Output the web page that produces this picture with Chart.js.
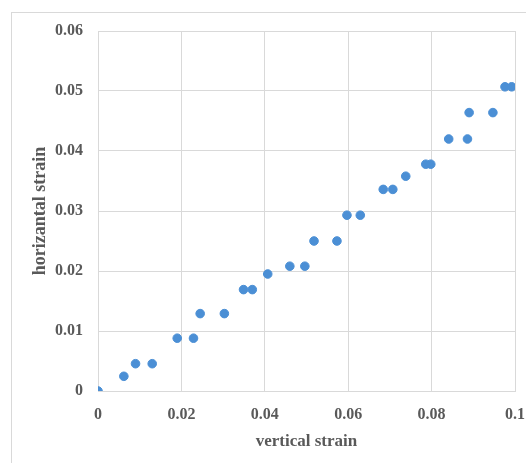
<!DOCTYPE html>
<html>
<head>
<meta charset="utf-8">
<script src="https://cdn.jsdelivr.net/npm/chart.js@4/dist/chart.umd.min.js"></script>
<style>
  html, body { margin: 0; padding: 0; background: #fff; overflow: hidden; }
  #frame { position: absolute; left: 11px; top: 12px; width: 560px; height: 500px; border: 1px solid #d9d9d9; }
  #wrap { position: absolute; left: 0; top: 0; width: 526px; height: 463px; }
</style>
</head>
<body>
<div id="frame"></div>
<div id="wrap"><canvas id="chart-strain"></canvas></div>
<script>
"use strict";
// values
var verticalStrain = [0, 0.0062, 0.0090, 0.0130, 0.0190, 0.0229, 0.0245, 0.0303, 0.0349, 0.0370,
	0.0407, 0.0460, 0.0496, 0.0518, 0.0573, 0.0597, 0.0629, 0.0684, 0.0707, 0.0738,
	0.0786, 0.0798, 0.0841, 0.0886, 0.0890, 0.0947, 0.0976, 0.0992];
var horizontalStrain = [0, 0.00245, 0.00455, 0.00455, 0.0088, 0.0088, 0.0129, 0.0129, 0.0169, 0.0169,
	0.0195, 0.0208, 0.0208, 0.0250, 0.0250, 0.0293, 0.0293, 0.0336, 0.0336, 0.0358,
	0.0378, 0.0378, 0.0420, 0.0420, 0.0464, 0.0464, 0.0507, 0.0507];
var xTicks = [0, 0.02, 0.04, 0.06, 0.08, 0.1];
var yTicks = [0, 0.01, 0.02, 0.03, 0.04, 0.05, 0.06];

var points = [];
for (var i = 0; i < verticalStrain.length; i++) {
	points.push({ x: verticalStrain[i], y: horizontalStrain[i] });
}

var serif = "'Liberation Serif', 'Times New Roman', serif";
var grey = "#595959";
var gridCol = "#d9d9d9";

new Chart("chart-strain", {
	type: "scatter",
	data: {
		datasets: [{
			data: points,
			backgroundColor: "#4b8fd5",
			borderColor: "#4b8fd5",
			pointRadius: 4.3,
			pointHoverRadius: 4.3
		}]
	},
	options: {
		responsive: true,
		maintainAspectRatio: false,
		animation: false,
		layout: { padding: { left: 0, right: 11, top: 31, bottom: 0 } },
		plugins: { legend: { display: false }, tooltip: { enabled: false } },
		scales: {
			x: {
				type: "linear",
				min: 0, max: 0.1,
				afterBuildTicks: (axis) => { axis.ticks = xTicks.map(v => ({ value: v })); },
				afterFit: (axis) => {
					axis.height = 72;
					// let the last label run to the canvas edge like the original
					axis.paddingLeft = 0;
					axis.paddingRight = 0;
				},
				grid: { color: gridCol, drawTicks: false },
				border: { color: gridCol },
				ticks: {
					padding: 14, color: grey,
					font: { family: serif, size: 16, weight: "bold" },
					callback: (v) => String(v)
				},
				title: {
					display: true, text: "vertical strain", color: grey,
					font: { family: serif, size: 17, weight: "bold" },
					padding: { top: 0, bottom: 11 }
				}
			},
			y: {
				type: "linear",
				min: 0, max: 0.06,
				afterBuildTicks: (axis) => { axis.ticks = yTicks.map(v => ({ value: v })); },
				afterFit: (axis) => { axis.width = 98; },
				grid: { color: gridCol, drawTicks: false },
				border: { color: gridCol },
				ticks: {
					padding: 15, color: grey,
					font: { family: serif, size: 16, weight: "bold" },
					callback: (v) => String(v)
				},
				title: {
					display: true, text: "horizantal strain", color: grey,
					font: { family: serif, size: 18, weight: "bold" },
					padding: { top: 30, bottom: 0 }
				}
			}
		}
	}
});
</script>
</body>
</html>
